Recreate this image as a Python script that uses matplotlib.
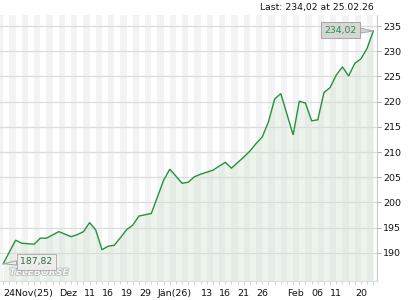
import matplotlib
matplotlib.use("Agg")
import matplotlib.pyplot as plt
import matplotlib.patheffects as pe
import numpy as np

plt.rcParams['font.family'] = ['DejaVu Sans']

values = [187.82, 190.2, 192.5, 191.9, 191.8, 191.7, 192.9, 192.9, 193.55, 194.2,
          193.7, 193.2, 193.6, 194.2, 196.0, 194.5, 190.6, 191.3, 191.5, 193.0,
          194.6, 195.5, 197.3, 197.55, 197.8, 201.1, 204.4, 206.6, 205.2, 203.8,
          204.0, 205.1, 205.6, 206.0, 206.4, 207.2, 207.95, 206.8, 207.9, 209.0,
          210.2, 211.7, 213.0, 216.0, 220.5, 221.6, 217.5, 213.4, 220.1, 219.7,
          216.2, 216.4, 221.8, 222.8, 225.3, 226.9, 225.1, 227.6, 228.5, 230.6,
          234.02]
tick_idx = [0, 9, 13, 16, 19, 22, 25, 32, 35, 38, 41, 46, 50, 53, 57]
tick_labels = ['24Nov(25)', 'Dez', '11', '16', '19', '29', 'Jän(26)', '13', '16',
               '21', '26', 'Feb', '06', '11', '20']
y_ticks = [190, 195, 200, 205, 210, 215, 220, 225, 230, 235]
first_label = '187,82'
last_label = '234,02'
header = 'Last: 234,02 at 25.02.26'

x = np.arange(len(values))

fig = plt.figure(figsize=(4.2, 3.0), dpi=100)
fig.patch.set_facecolor('white')
ax = fig.add_axes([0.0, 1 - 281 / 300, 377 / 420, (281 - 15) / 300])
ax.set_facecolor('white')

xmin, xmax = -0.535, 60.6
ax.set_xlim(xmin, xmax)
ax.set_ylim(184.4, 237.2)

# alternating vertical stripes
for k in range(-1, len(values) + 1, 2):
    ax.axvspan(k, k + 1, color='#f3f3f3', lw=0, zorder=0)

# grid
for yv in y_ticks:
    ax.axhline(yv, color='#dcdcdc', lw=0.9, zorder=1)

line_color = '#239140'
ax.fill_between(x, values, 184.4, color='#cfe3cf', alpha=0.38, lw=0, zorder=2)
ax.plot(x, values, color=line_color, lw=1.0, zorder=3, solid_joinstyle='miter')

# axes styling
for s in ['left', 'top']:
    ax.spines[s].set_visible(False)
ax.spines['right'].set_color('#c8c8c8')
ax.spines['right'].set_linewidth(0.8)
ax.spines['bottom'].set_color('#dddddd')
ax.spines['bottom'].set_linewidth(0.8)

ax.yaxis.tick_right()
ax.set_yticks(y_ticks)
ax.set_yticklabels([str(v) for v in y_ticks])
ax.tick_params(axis='y', which='major', direction='out', length=3, width=0.7,
               color='#aaaaaa', pad=1.5, labelsize=6.8, labelcolor='#111111')

ax.set_xticks(tick_idx)
ax.set_xticklabels(tick_labels, ha='left')
ax.set_xticks(x, minor=True)
ax.tick_params(axis='x', which='both', direction='out', length=2.5, width=0.6,
               color='#cccccc', pad=3.5, labelsize=6.8, labelcolor='#111111')
for lbl in ax.get_xticklabels():
    lbl.set_horizontalalignment('left')

# header
fig.text(374 / 420, 1 - 7.5 / 300, header, ha='right', va='center',
         fontsize=6.7, color='#111111')

# last value callout
ax.annotate(last_label, xy=(x[-1], values[-1]), xytext=(-33, 1),
            textcoords='offset pixels', ha='center', va='center',
            fontsize=6.7, color=line_color, zorder=6,
            bbox=dict(boxstyle='square,pad=0.35', fc='#d6d6d6', ec='#a6a6a6', lw=0.7),
            arrowprops=dict(arrowstyle='wedge,tail_width=0.55', fc='#d6d6d6',
                            ec='#a6a6a6', lw=0.7, shrinkA=0, shrinkB=0))

# first value callout
ax.annotate(first_label, xy=(x[0], values[0]), xytext=(33, 2),
            textcoords='offset pixels', ha='center', va='center',
            fontsize=6.7, color='#2a6e3a', zorder=6,
            bbox=dict(boxstyle='square,pad=0.35', fc='#eeeeee', ec='#a6a6a6',
                      lw=0.7, alpha=0.85),
            arrowprops=dict(arrowstyle='wedge,tail_width=0.45', fc='#eeeeee',
                            ec='#a6a6a6', lw=0.7, shrinkA=0, shrinkB=0))

# watermark
ax.text(0.025, 0.015, 'TELEBÖRSE', transform=ax.transAxes, ha='left', va='bottom',
        fontsize=6.6, fontweight='bold', fontstyle='italic', color='#f4f4f4', zorder=5,
        path_effects=[pe.withStroke(linewidth=1.0, foreground='#b5b5b5')])

fig.savefig('out.png', dpi=100, facecolor='white')
